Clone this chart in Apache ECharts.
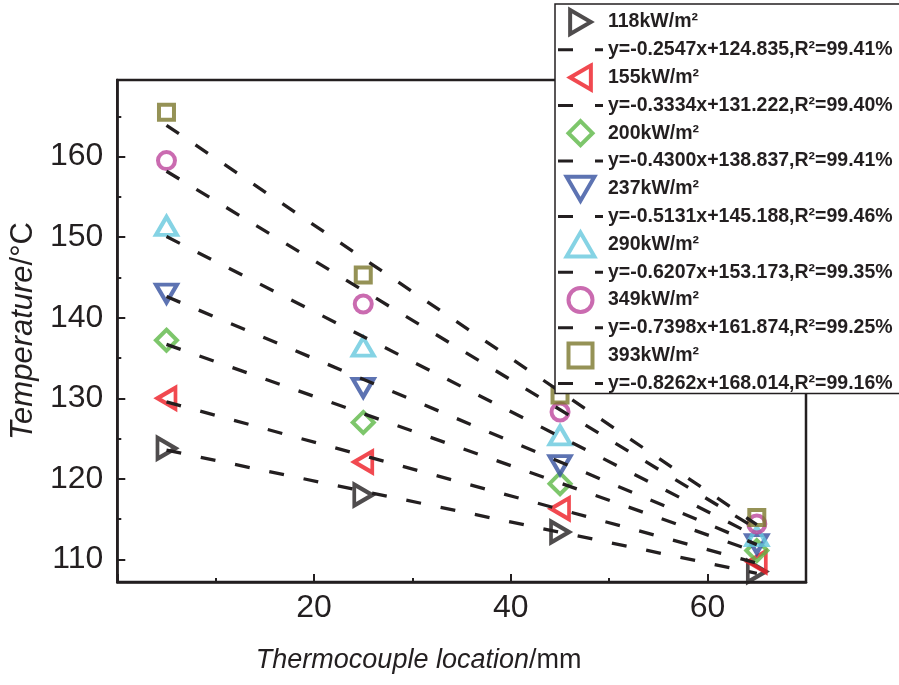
<!DOCTYPE html>
<html>
<head>
<meta charset="utf-8">
<script src="https://cdn.jsdelivr.net/npm/echarts@6/dist/echarts.min.js"></script>
<style>
  html, body { margin: 0; padding: 0; background: #ffffff; }
  #chart { width: 899px; height: 685px; }
</style>
</head>
<body>
<div id="chart"></div>
<script>
// Thermocouple positions along the sample (mm)
const positions = [5, 25, 45, 65];

// Heat flux levels
const heatFlux = ['118kW/m²', '155kW/m²', '200kW/m²', '237kW/m²', '290kW/m²', '349kW/m²', '393kW/m²'];

// Measured temperatures (°C) at each thermocouple position
const temp118 = [123.8, 118.0, 113.4, 108.5];
const temp155 = [130.0, 122.1, 116.3, 109.7];
const temp200 = [137.2, 127.0, 119.4, 111.1];
const temp237 = [143.0, 131.3, 121.7, 111.9];
const temp290 = [151.4, 136.4, 125.4, 112.9];
const temp349 = [159.5, 141.7, 128.3, 114.4];
const temp393 = [165.5, 145.3, 130.4, 115.2];

// Linear fits y = slope * x + intercept
const fitSlopes = [-0.2547, -0.3334, -0.4300, -0.5131, -0.6207, -0.7398, -0.8262];
const fitIntercepts = [124.835, 131.222, 138.837, 145.188, 153.173, 161.874, 168.014];
const fitR2 = ['99.41', '99.40', '99.41', '99.46', '99.35', '99.25', '99.16'];
const fitRange = [5, 65];

// Axis ticks and labels
const xTickLabels = [20, 40, 60];
const xMajorTicks = [0, 20, 40, 60];
const xMinorTicks = [10, 30, 50];
const yTickLabels = [110, 120, 130, 140, 150, 160];
const yMinorTicks = [115, 125, 135, 145, 155, 165];

const temps = [temp118, temp155, temp200, temp237, temp290, temp349, temp393];
const colors = ['#231f20', '#ed1c24', '#5cb846', '#34509f', '#66c8dd', '#bd469c', '#7a772c'];
const symbols = ['triangle', 'triangle', 'diamond', 'triangle', 'triangle', 'circle', 'rect'];
const rotations = [-90, 90, 0, 180, 0, 0, 0];
const sizes = [[21, 18], [21, 18], 21, [21, 18], [21, 18], 17, 15];

// Outline shapes for the legend keys (kept at their own aspect ratio)
const legendIcons = [
  'path://M0,0L19,11L0,22Z',
  'path://M19,0L0,11L19,22Z',
  'path://M11,0L22,11L11,22L0,11Z',
  'path://M0,0L22,0L11,19Z',
  'path://M11,0L22,19L0,19Z',
  'path://M11,0A11,11,0,1,1,10.99,0Z',
  'path://M0,0H20V20H0Z'
];

const ink = '#231f20';
const font = "'Liberation Sans', Arial, sans-serif";
const dashIcon = 'path://M0,0H15V3H0Z M37,0H45V3H37Z';

const series = [];
const legendData = [];

temps.forEach((vals, i) => {
  const eq = 'y=' + fitSlopes[i].toFixed(4) + 'x+' + fitIntercepts[i].toFixed(3) + ',R²=' + fitR2[i] + '%';
  series.push({
    name: heatFlux[i],
    type: 'scatter',
    data: positions.map((p, k) => [p, vals[k]]),
    symbol: symbols[i],
    symbolSize: sizes[i],
    symbolRotate: rotations[i],
    itemStyle: { color: 'rgba(255,255,255,0)', borderColor: colors[i], borderWidth: 4 },
    z: 2
  });
  series.push({
    name: eq,
    type: 'line',
    data: fitRange.map(x => [x, fitSlopes[i] * x + fitIntercepts[i]]),
    symbol: 'none',
    color: ink,
    lineStyle: { color: ink, width: 3.3, type: [15, 20], cap: 'butt' },
    z: 3
  });
  legendData.push({
    name: heatFlux[i],
    icon: legendIcons[i],
    symbolRotate: 0,
    itemStyle: { color: 'rgba(255,255,255,0)', borderColor: colors[i], borderWidth: 4 }
  });
  legendData.push({ name: eq, icon: dashIcon, itemStyle: { color: ink, borderWidth: 0 } });
});

const chart = echarts.init(document.getElementById('chart'), null, { renderer: 'canvas' });

chart.setOption({
  animation: false,
  backgroundColor: '#ffffff',
  grid: {
    left: 114, right: 93, top: 80, bottom: 103,
    show: true, borderColor: ink, borderWidth: 2.5, backgroundColor: 'rgba(0,0,0,0)'
  },
  legend: {
    orient: 'vertical',
    left: 555, top: 4,
    padding: [4, 16, 0, 3],
    itemWidth: 45, itemHeight: 24, itemGap: 3.8,
    backgroundColor: '#ffffff',
    borderColor: ink, borderWidth: 1.5, borderRadius: 0,
    textStyle: { fontSize: 19.5, fontWeight: 'bold', color: ink, fontFamily: font, lineHeight: 20 },
    itemStyle: { borderWidth: 4 },
    symbolRotate: 0,
    selectedMode: false,
    data: legendData,
    z: 10
  },
  xAxis: [
    {
      type: 'value', min: 0, max: 70, position: 'bottom',
      axisLine: { show: true, onZero: false, lineStyle: { color: ink, width: 2.5 } },
      axisTick: { show: true, inside: true, length: 8, lineStyle: { color: ink, width: 2 }, customValues: xMajorTicks },
      axisLabel: { customValues: xTickLabels, fontSize: 32, color: ink, margin: 10, fontFamily: font },
      splitLine: { show: false },
      name: '{i|Thermocouple location}{n|/mm}',
      nameLocation: 'middle', nameGap: 65,
      nameTextStyle: {
        padding: [0, 86, 0, 0],
        rich: {
          i: { fontStyle: 'italic', fontSize: 27, color: ink, fontFamily: font },
          n: { fontSize: 27, color: ink, fontFamily: font }
        }
      }
    },
    {
      type: 'value', min: 0, max: 70, position: 'bottom',
      axisLine: { show: false },
      axisTick: { show: true, inside: true, length: 4, lineStyle: { color: ink, width: 2 }, customValues: xMinorTicks },
      axisLabel: { show: false },
      splitLine: { show: false }
    }
  ],
  yAxis: [
    {
      type: 'value', min: 107.2, max: 169.5, position: 'left',
      axisLine: { show: true, onZero: false, lineStyle: { color: ink, width: 2.5 } },
      axisTick: { show: true, inside: true, length: 8, lineStyle: { color: ink, width: 2 }, customValues: yTickLabels },
      axisLabel: { customValues: yTickLabels, fontSize: 32, color: ink, margin: 14, fontFamily: font },
      splitLine: { show: false },
      name: '{i|Temperature}{n|/°C}',
      nameLocation: 'middle', nameGap: 76, nameRotate: 90,
      nameTextStyle: {
        rich: {
          i: { fontStyle: 'italic', fontSize: 31, color: ink, fontFamily: font },
          n: { fontSize: 31, color: ink, fontFamily: font }
        }
      }
    },
    {
      type: 'value', min: 107.2, max: 169.5, position: 'left', offset: 0,
      axisLine: { show: false },
      axisTick: { show: true, inside: true, length: 4, lineStyle: { color: ink, width: 2 }, customValues: yMinorTicks },
      axisLabel: { show: false },
      splitLine: { show: false }
    }
  ],
  series: series
});
</script>
</body>
</html>
